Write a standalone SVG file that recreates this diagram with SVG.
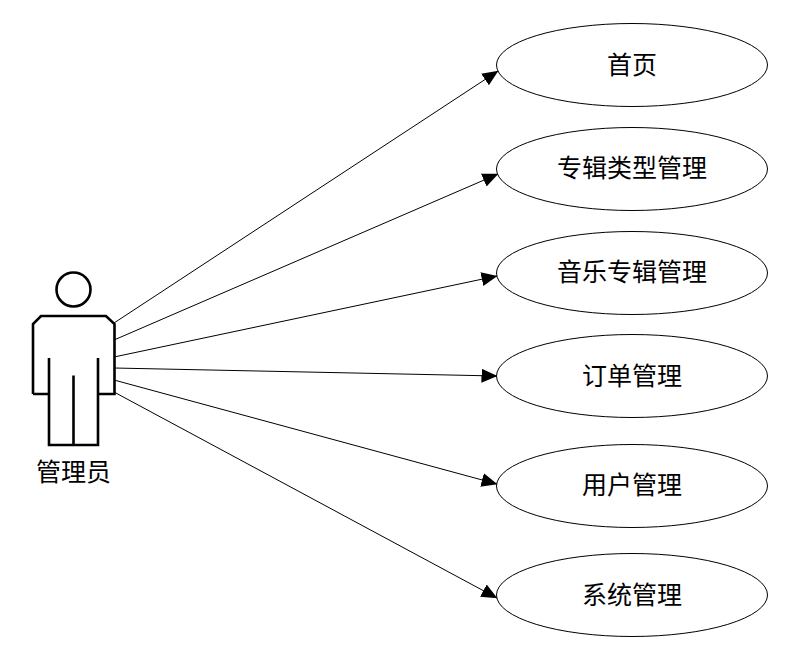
<svg xmlns="http://www.w3.org/2000/svg" width="810" height="646" viewBox="0 0 810 646">
<style>
text{font-family:"Liberation Sans","Noto Sans CJK SC",sans-serif;font-size:25px;fill:#000;text-anchor:middle}
.n{fill:#fff;stroke:#000;stroke-width:1}
.c{stroke:#000;stroke-width:1;fill:none;marker-end:url(#a)}
.p{fill:none;stroke:#000;stroke-width:2.600}
</style>
<defs><marker id="a" markerUnits="userSpaceOnUse" markerWidth="17" markerHeight="15" refX="15.500" refY="7" orient="auto"><path d="M0 0L16 7L0 14Z" fill="#000"/></marker></defs>
<rect width="810" height="646" fill="#fff"/>
<g id="connectors">
<line class="c" x1="114" y1="323" x2="498" y2="71"/>
<line class="c" x1="114" y1="340" x2="498" y2="174"/>
<line class="c" x1="114" y1="357" x2="497" y2="276"/>
<line class="c" x1="114" y1="368" x2="497" y2="376"/>
<line class="c" x1="114" y1="380" x2="497" y2="484"/>
<line class="c" x1="114" y1="392" x2="497" y2="598"/>
</g>
<g id="actor">
<circle class="p" cx="73.500" cy="289.500" r="17"/>
<path class="p" d="M33 394V324L41 316H106L114.500 324V394H98M49 394H33M49 358V445H98V358M73.500 375.500V445"/>
<text x="73.500" y="481">管理员</text>
</g>
<g id="n1"><ellipse class="n" cx="632" cy="65" rx="135.500" ry="41.500"/><text x="632" y="74">首页</text></g>
<g id="n2"><ellipse class="n" cx="632" cy="169" rx="135.500" ry="41.500"/><text x="632" y="177">专辑类型管理</text></g>
<g id="n3"><ellipse class="n" cx="632" cy="273" rx="135.500" ry="41.500"/><text x="632" y="281">音乐专辑管理</text></g>
<g id="n4"><ellipse class="n" cx="632" cy="376" rx="135.500" ry="41.500"/><text x="632" y="385">订单管理</text></g>
<g id="n5"><ellipse class="n" cx="632" cy="486" rx="135.500" ry="41.500"/><text x="632" y="494">用户管理</text></g>
<g id="n6"><ellipse class="n" cx="632" cy="595" rx="135.500" ry="41.500"/><text x="632" y="604">系统管理</text></g>
</svg>
